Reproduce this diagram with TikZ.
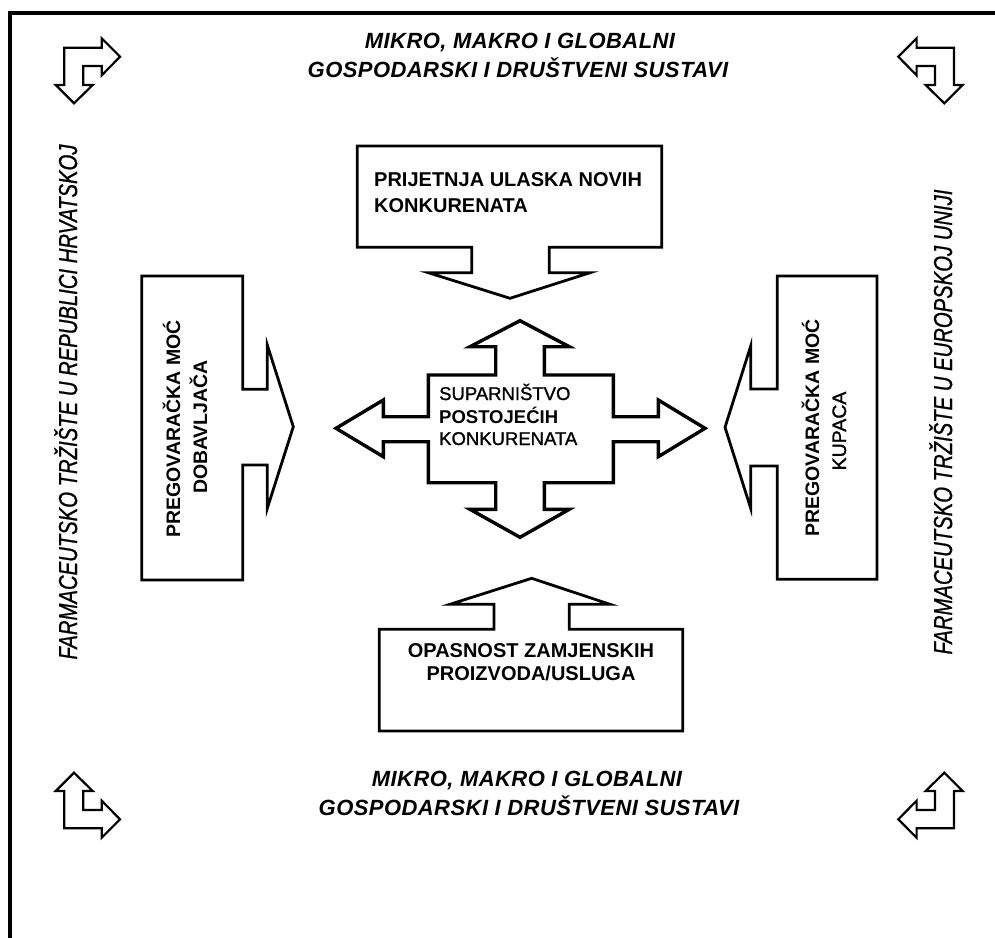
\documentclass[tikz,border=0pt]{standalone}
\usepackage{fontspec}
\setmainfont{Liberation Sans}
\newfontfamily\sidefont[FakeStretch=0.78,FakeBold=0.8]{Liberation Sans}
\newfontfamily\medfont[FakeBold=1.2]{Liberation Sans}
\newfontfamily\spacedfont[LetterSpace=2]{Liberation Sans}
\begin{document}
\begin{tikzpicture}[x=1pt,y=-1pt,
  frameline/.style={line width=4pt},
  shapeline/.style={draw=black, line width=2.8pt, fill=white, line join=miter},
  cornerline/.style={draw=black, line width=2.2pt, fill=white, line join=miter},
  crossline/.style={draw=black, line width=3.4pt, fill=white, line join=miter},
  boxtext/.style={inner sep=0pt, font=\fontsize{20}{24}\selectfont\bfseries},
  midtext/.style={inner sep=0pt, font=\fontsize{18.5}{22}\medfont},
  rottext/.style={inner sep=0pt, rotate=90, font=\fontsize{19.5}{23}\selectfont\bfseries},
  toptext/.style={inner sep=0pt, font=\fontsize{22}{29}\spacedfont\bfseries\itshape},
  sidetext/.style={inner sep=0pt, rotate=90, font=\fontsize{26}{30}\sidefont\itshape}]
\useasboundingbox (0,0) rectangle (995,937);
% frame
\draw[frameline] (10,945) -- (10,13) -- (1005,13);
% corner arrows
\path[cornerline] (120,56.7) -- (101.7,38.3) -- (101.7,47.7) -- (64.3,47.7) -- (64.3,85) -- (55.7,85) -- (74,103.3) -- (92.7,85) -- (83.3,85) -- (83.3,66) -- (101.7,66) -- (101.7,75.3) -- cycle;
\path[cornerline] (898.3,56.7) -- (916.6,38.3) -- (916.6,47.7) -- (954,47.7) -- (954,85) -- (962.6,85) -- (944.3,103.3) -- (925.6,85) -- (935,85) -- (935,66) -- (916.6,66) -- (916.6,75.3) -- cycle;
\path[cornerline] (120,819.3) -- (101.7,837.7) -- (101.7,828.3) -- (64.3,828.3) -- (64.3,791) -- (55.7,791) -- (74,772.7) -- (92.7,791) -- (83.3,791) -- (83.3,810) -- (101.7,810) -- (101.7,800.7) -- cycle;
\path[cornerline] (898.3,819.3) -- (916.6,837.7) -- (916.6,828.3) -- (954,828.3) -- (954,791) -- (962.6,791) -- (944.3,772.7) -- (925.6,791) -- (935,791) -- (935,810) -- (916.6,810) -- (916.6,800.7) -- cycle;
% central cross
\path[crossline] (520,320.7) -- (569.3,346.7) -- (544.3,346.7) -- (544.3,375) -- (613.3,375) -- (613.3,416.7) -- (658.3,416.7) -- (658.3,400) -- (705,428.3) -- (658.3,456.7) -- (658.3,441.7) -- (613.3,441.7) -- (613.3,482.7) -- (544.3,482.7) -- (544.3,509.3) -- (569.3,509.3) -- (520,537.3) -- (470,509.3) -- (495.7,509.3) -- (495.7,482.7) -- (428.3,482.7) -- (428.3,441.7) -- (383.3,441.7) -- (383.3,456.7) -- (336,428.3) -- (383.3,400) -- (383.3,416.7) -- (428.3,416.7) -- (428.3,375) -- (495.7,375) -- (495.7,346.7) -- (470,346.7) -- cycle;
% top box
\path[shapeline] (357.3,146) -- (661.7,146) -- (661.7,247.3) -- (549.3,247.3) -- (549.3,272.7) -- (590,272.7) -- (510,298.3) -- (428.3,272.7) -- (471.7,272.7) -- (471.7,247.3) -- (357.3,247.3) -- cycle;
% left box
\path[shapeline] (141.7,276) -- (242.7,276) -- (242.7,389.3) -- (267.3,389.3) -- (267.3,345) -- (293.3,426.7) -- (267.3,508.3) -- (267.3,465) -- (242.7,465) -- (242.7,580) -- (141.7,580) -- cycle;
% right box
\path[shapeline] (877,276) -- (777.3,276) -- (777.3,389) -- (750.7,389) -- (750.7,346) -- (725,427.3) -- (750.7,508.3) -- (750.7,466) -- (777.3,466) -- (777.3,579.3) -- (877,579.3) -- cycle;
% bottom box
\path[shapeline] (531.7,578.3) -- (610,604.3) -- (569.3,604.3) -- (569.3,629.3) -- (682.7,629.3) -- (682.7,731) -- (379.3,731) -- (379.3,629.3) -- (494,629.3) -- (494,604.3) -- (450,604.3) -- cycle;
% texts
\node[toptext, anchor=base] (t1) at (520,48) {MIKRO, MAKRO I GLOBALNI};
\node[toptext, anchor=base] (t2) at (518,77) {GOSPODARSKI I DRUŠTVENI SUSTAVI};
\node[toptext, anchor=base] (b1) at (527,786) {MIKRO, MAKRO I GLOBALNI};
\node[toptext, anchor=base] (b2) at (529,815) {GOSPODARSKI I DRUŠTVENI SUSTAVI};
\node[sidetext, anchor=base] (sl) at (77,402) {FARMACEUTSKO TRŽIŠTE U REPUBLICI HRVATSKOJ};
\node[sidetext, anchor=base] (sr) at (952,422) {FARMACEUTSKO TRŽIŠTE U EUROPSKOJ UNIJI};
\node[boxtext, anchor=base west] (p1) at (374,186) {PRIJETNJA ULASKA NOVIH};
\node[boxtext, anchor=base west] (p2) at (374,212) {KONKURENATA};
\node[boxtext, anchor=base] (o1) at (531,657) {OPASNOST ZAMJENSKIH};
\node[boxtext, anchor=base] (o2) at (531,680) {PROIZVODA/USLUGA};
\node[midtext, anchor=base west] (c1) at (439,400) {SUPARNIŠTVO};
\node[midtext, anchor=base west, font=\fontsize{18.5}{22}\selectfont\bfseries] (c2) at (439,423) {POSTOJEĆIH};
\node[midtext, anchor=base west] (c3) at (439,445) {KONKURENATA};
\node[rottext, anchor=base] (l1) at (180,429) {PREGOVARAČKA MOĆ};
\node[rottext, anchor=base] (l2) at (207,427) {DOBAVLJAČA};
\node[rottext, anchor=base] (r1) at (819,428) {PREGOVARAČKA MOĆ};
\node[rottext, anchor=base, font=\fontsize{19.5}{23}\medfont] (r2) at (846,431) {KUPACA};
\end{tikzpicture}
\end{document}
